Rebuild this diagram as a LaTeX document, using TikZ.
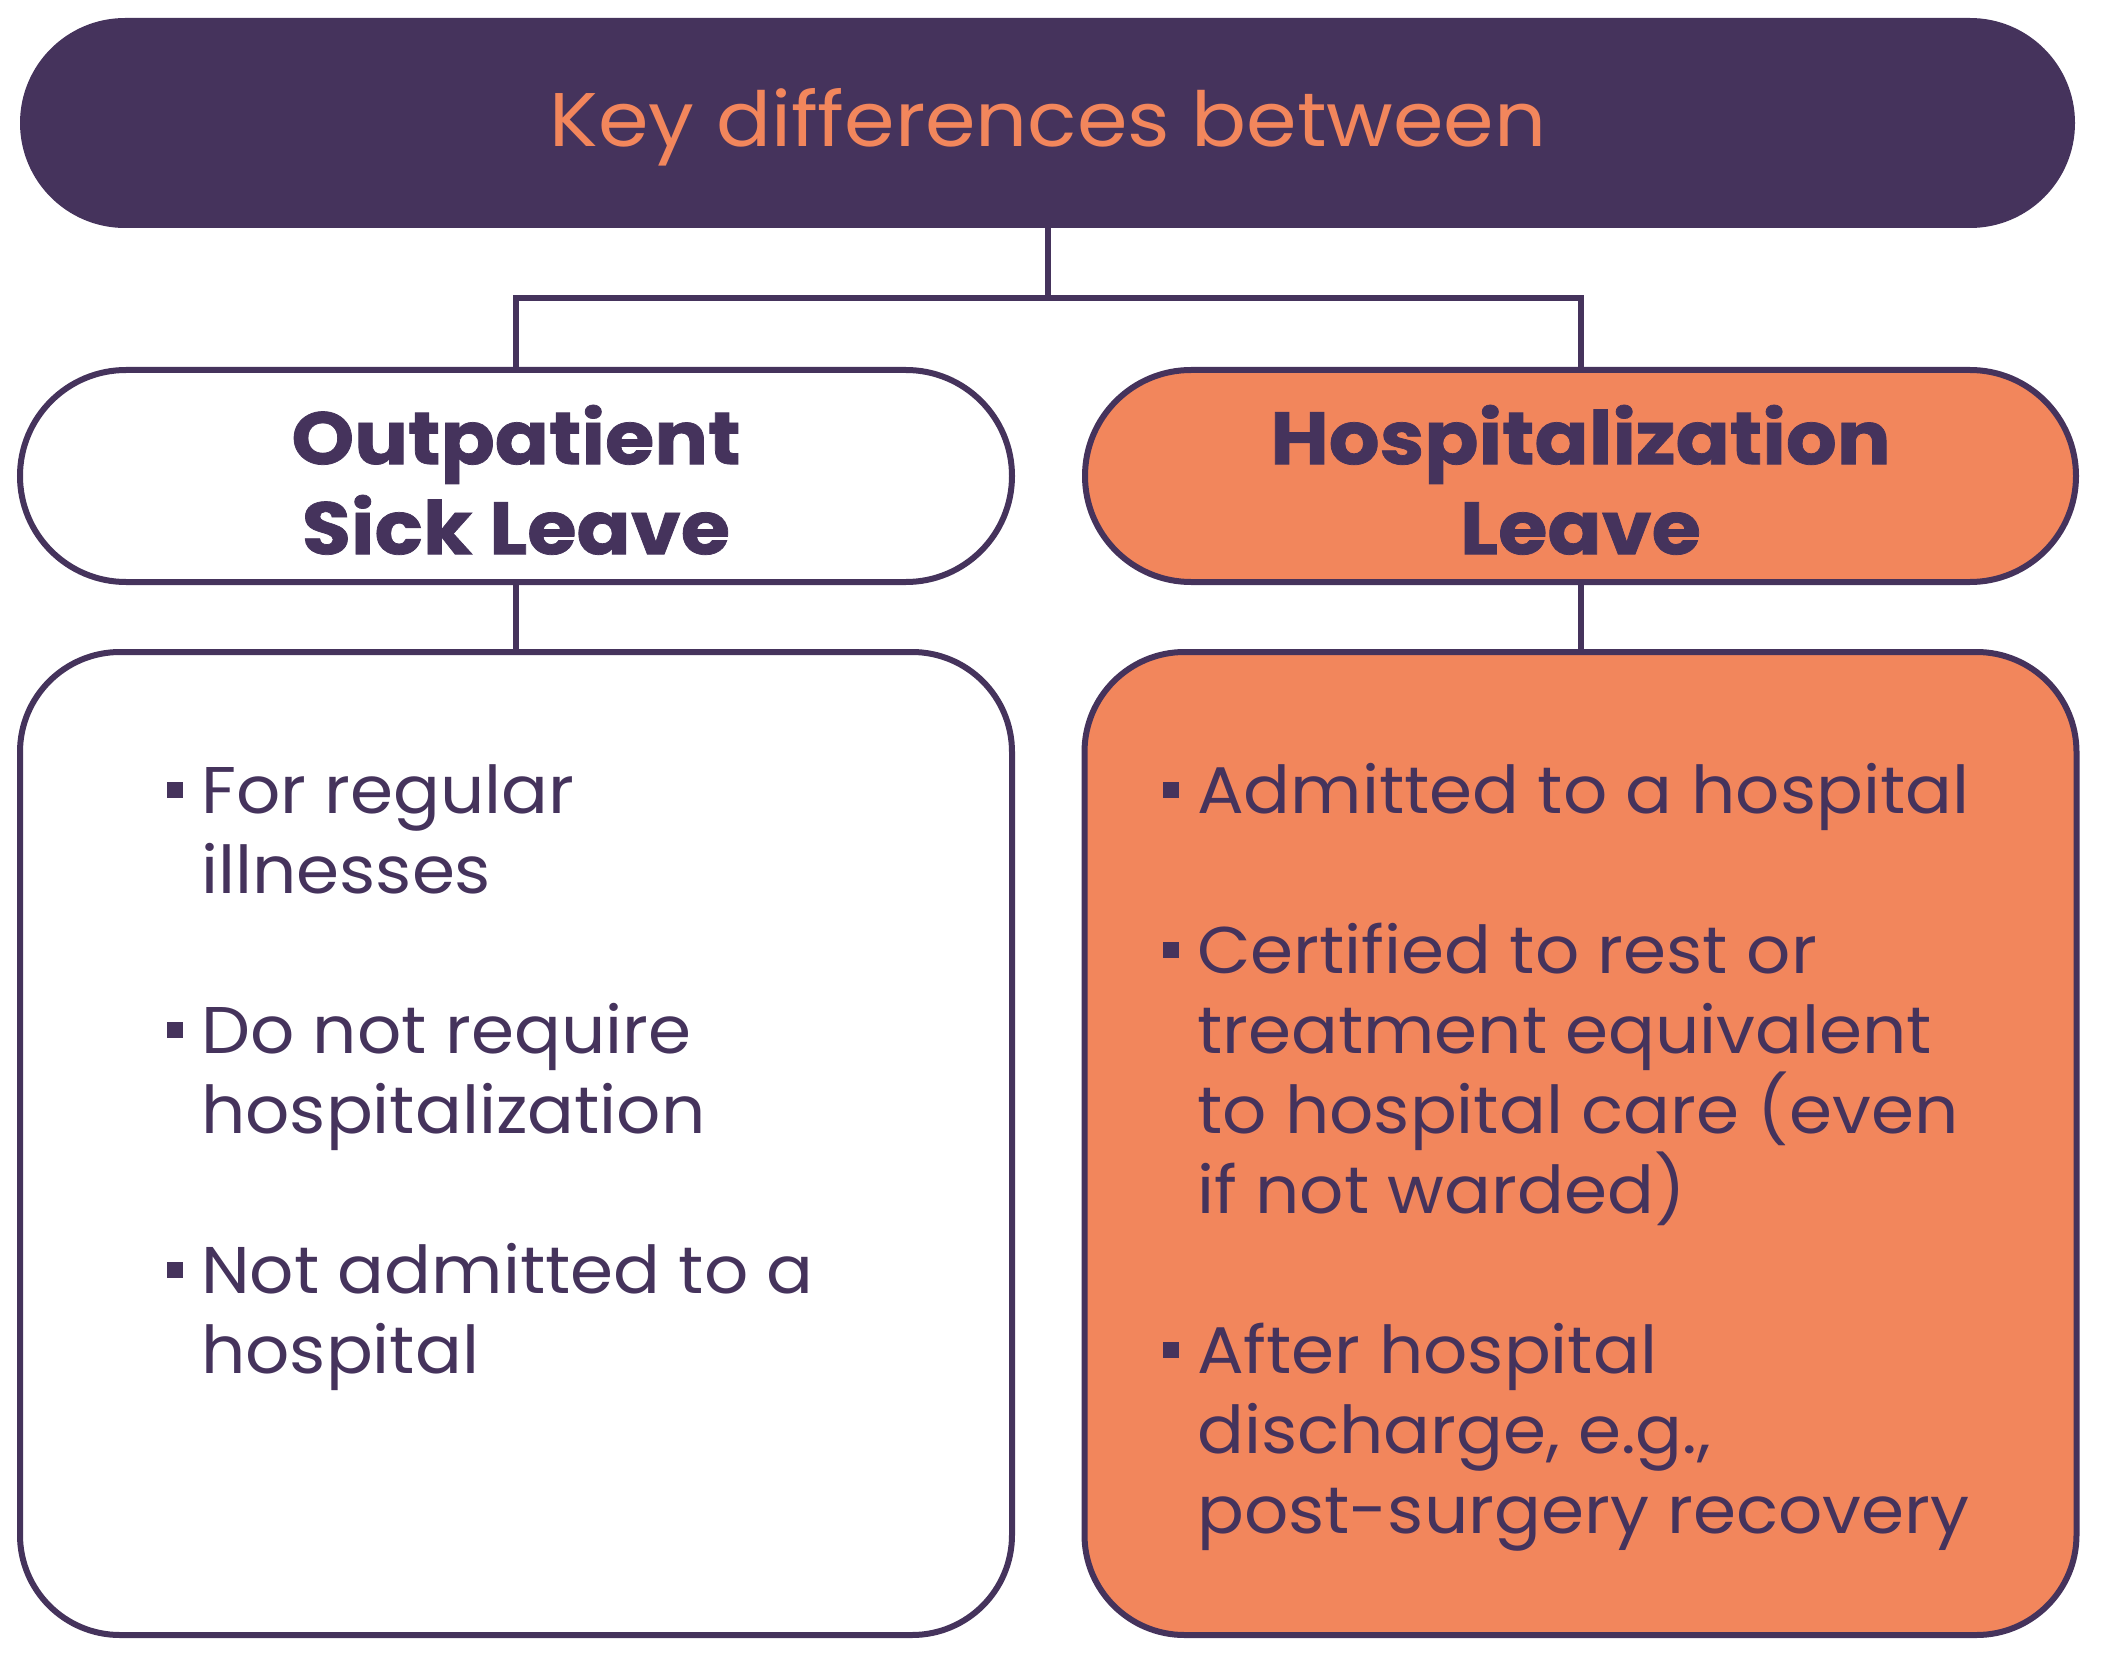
\documentclass[tikz,border=0pt]{standalone}
\usepackage{fontspec}
\setmainfont{Poppins}
\newfontfamily\titlefont{Poppins}[FakeStretch=1.07]
\newfontfamily\headfont{Poppins}[FakeStretch=1.08, BoldFeatures={FakeBold=1}]
\newfontfamily\listfont{Poppins}[FakeStretch=1.05]
\definecolor{plum}{HTML}{45335C}
\definecolor{coral}{HTML}{F2865C}
\newcommand{\bitem}[1]{\makebox[34pt][l]{\rule[15pt]{16pt}{16pt}}#1}
\newcommand{\bcont}[1]{\hspace*{34pt}#1}
\begin{document}
\begin{tikzpicture}[x=1pt,y=-1pt,
  pill/.style={draw=plum, line width=6pt, minimum height=212pt, rounded corners=106pt, inner sep=0pt},
  bodybox/.style={draw=plum, line width=6pt, minimum height=983pt, minimum width=992pt, rounded corners=100pt, inner sep=0pt},
  link/.style={draw=plum, line width=6pt},
  headtext/.style={text=plum, font=\headfont\fontsize{74}{90}\selectfont\bfseries, align=center, inner sep=0pt, anchor=north},
  listtext/.style={text=plum, font=\listfont\fontsize{66}{80}\selectfont, align=left, inner sep=0pt, anchor=north west}]
\useasboundingbox (0,0) rectangle (2115,1661);
% title
\node[fill=plum, minimum width=2055pt, minimum height=210pt, rounded corners=105pt, inner sep=0pt] (title) at (1047.5,123) {};
\node[text=coral, font=\titlefont\fontsize{76}{90}\selectfont, anchor=base, inner sep=0pt] (ttext) at (1048,147) {Key differences between};
% headers
\node[pill, fill=white, minimum width=992pt] (lh) at (516,476) {};
\node[pill, fill=coral, minimum width=991pt] (rh) at (1580.5,476) {};
\node[headtext] (lht) at (516,389) {\rule{0pt}{75pt}Outpatient\\Sick Leave};
\node[headtext] (rht) at (1580.5,389) {\rule{0pt}{75pt}Hospitalization\\Leave};
% bodies
\node[bodybox, fill=white] (lb) at (516,1143.5) {};
\node[bodybox, fill=coral] (rb) at (1580.5,1143.5) {};
% connectors
\coordinate (j) at (1047.5,298);
\draw[link] (title.south) -- (j);
\draw[link] (lh.north) |- (j) -| (rh.north);
\draw[link] (lh.south) -- (lb.north);
\draw[link] (rh.south) -- (rb.north);
% lists
\node[listtext] (ll) at (167,743) {\rule{0pt}{70pt}\bitem{For regular}\\
\bcont{illnesses}\\[80pt]
\bitem{Do not require}\\
\bcont{hospitalization}\\[80pt]
\bitem{Not admitted to a}\\
\bcont{hospital}};
\node[listtext] (rl) at (1163,743) {\rule{0pt}{70pt}\bitem{Admitted to a hospital}\\[80pt]
\bitem{Certified to rest or}\\
\bcont{treatment equivalent}\\
\bcont{to hospital care (even}\\
\bcont{if not warded)}\\[80pt]
\bitem{After hospital}\\
\bcont{discharge, e.g.,}\\
\bcont{post-surgery recovery}};
\end{tikzpicture}
\end{document}
